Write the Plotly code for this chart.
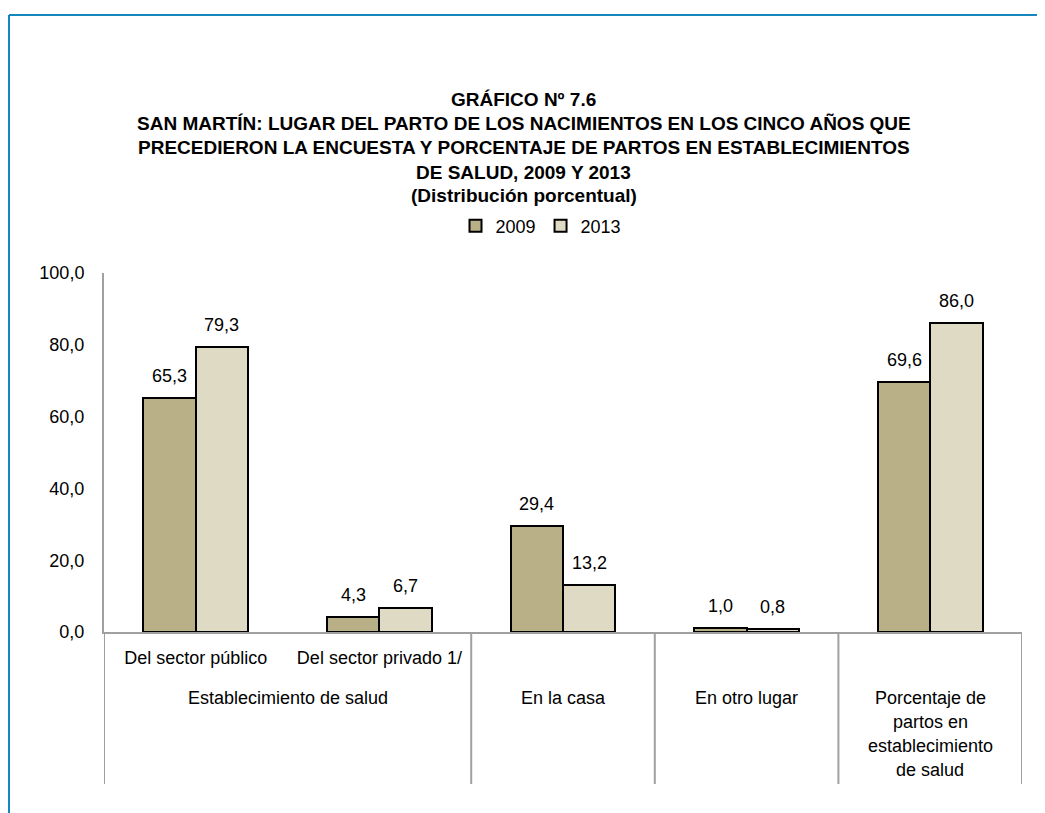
import plotly.graph_objects as go

# ---------------- data ----------------
inner_labels = ["Del sector público", "Del sector privado 1/", "", "", ""]
outer_groups = [
    (["Establecimiento de salud"], 0, 1),
    (["En la casa"], 2, 2),
    (["En otro lugar"], 3, 3),
    (["Porcentaje de", "partos en", "establecimiento", "de salud"], 4, 4),
]
series_names = ["2009", "2013"]
values_2009 = [65.3, 4.3, 29.4, 1.0, 69.6]
values_2013 = [79.3, 6.7, 13.2, 0.8, 86.0]
yticks = [0, 20, 40, 60, 80, 100]
title_lines = [
    "GRÁFICO Nº 7.6",
    "SAN MARTÍN: LUGAR DEL PARTO DE LOS NACIMIENTOS EN LOS CINCO AÑOS QUE",
    "PRECEDIERON LA ENCUESTA Y PORCENTAJE DE PARTOS EN ESTABLECIMIENTOS",
    "DE SALUD, 2009 Y 2013",
    "(Distribución porcentual)",
]

# ---------------- style / layout ----------------
W, H = 1045, 813
OFF = 8  # page body margin offset
# plot area in page pixels (reference coordinates)
PL, PR, PT, PB = 104, 1022, 273, 632
FONT = "Liberation Sans, Arial, sans-serif"
FS = 18
TFS = 19
colors = ["#BAB088", "#DEDAC3"]
axis_gray = "#A0A0A0"
bw = 0.285


def px_x(px):
    return (px - PL) / (PR - PL)


def px_y(py):
    return (PB - py) / (PB - PT)


idx = list(range(len(values_2009)))
fig = go.Figure()
for name, vals, col, off in [
    (series_names[0], values_2009, colors[0], -bw),
    (series_names[1], values_2013, colors[1], 0.0),
]:
    fig.add_trace(go.Bar(
        x=idx, y=vals, name=name, width=bw, offset=off,
        marker=dict(color=col, line=dict(color="black", width=2)),
        hoverinfo="skip",
    ))

annotations = []
# value labels
for vals, off in [(values_2009, -bw / 2), (values_2013, bw / 2)]:
    for i, v in zip(idx, vals):
        annotations.append(dict(
            x=i + off, y=v, xref="x", yref="y",
            text=f"{v:.1f}".replace(".", ","), showarrow=False,
            yanchor="middle", yshift=22,
            font=dict(family=FONT, size=FS, color="black"),
        ))

# outer category labels
for lines, a, b in outer_groups:
    for k, ln in enumerate(lines):
        annotations.append(dict(
            x=(a + b) / 2, y=px_y(698 + 24 * k), xref="x", yref="paper",
            text=ln, showarrow=False, yanchor="middle",
            font=dict(family=FONT, size=FS, color="black"),
        ))

# title lines
title_y = [99, 123, 147, 172, 196]
for ln, py in zip(title_lines, title_y):
    annotations.append(dict(
        x=px_x(W / 2 + 1), y=px_y(py), xref="paper", yref="paper",
        text=f"<b>{ln}</b>", showarrow=False, yanchor="middle",
        font=dict(family=FONT, size=TFS, color="black"),
    ))

shapes = []
# dividers between groups
bounds = [-0.5] + [b + 0.5 for _, _, b in outer_groups]
for xb in bounds:
    shapes.append(dict(
        type="line", xref="x", yref="paper", x0=xb, x1=xb,
        y0=0, y1=px_y(784), line=dict(color=axis_gray, width=2),
    ))
# outer frame (top and left)
border = "#1488BC"
shapes.append(dict(type="line", xref="paper", yref="paper",
                   x0=px_x(OFF + 1), x1=px_x(W + 20), y0=px_y(15), y1=px_y(15),
                   line=dict(color=border, width=2)))
shapes.append(dict(type="line", xref="paper", yref="paper",
                   x0=px_x(OFF + 1), x1=px_x(OFF + 1), y0=px_y(15), y1=px_y(H + 20),
                   line=dict(color=border, width=2)))

fig.update_layout(
    width=W, height=H,
    margin=dict(l=PL - OFF, r=W - (PR - OFF), t=PT - OFF, b=H - (PB - OFF),
                autoexpand=False),
    paper_bgcolor="white", plot_bgcolor="white",
    separators=",.",
    barmode="group", bargap=0, bargroupgap=0,
    font=dict(family=FONT, size=FS, color="black"),
    showlegend=True,
    legend=dict(
        orientation="h", x=px_x(541), y=px_y(226), xanchor="center", yanchor="middle",
        font=dict(family=FONT, size=FS, color="black"), itemwidth=30,
        bgcolor="rgba(0,0,0,0)", traceorder="normal",
    ),
    xaxis=dict(
        range=[-0.5, len(idx) - 0.5], tickvals=idx, ticktext=inner_labels,
        showline=True, linecolor=axis_gray, linewidth=2, ticks="",
        showgrid=False, zeroline=False, ticklabelstandoff=8,
        tickfont=dict(family=FONT, size=FS, color="black"), fixedrange=True,
    ),
    yaxis=dict(
        range=[0, 100], tickvals=yticks, tickformat=".1f",
        showline=True, linecolor=axis_gray, linewidth=2, ticks="",
        showgrid=False, zeroline=False, ticklabelstandoff=14,
        tickfont=dict(family=FONT, size=FS, color="black"), fixedrange=True,
    ),
    annotations=annotations, shapes=shapes,
)

fig.write_html("out.html")
